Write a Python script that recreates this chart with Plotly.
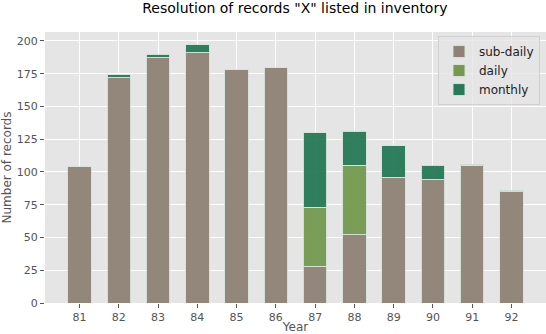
import plotly.graph_objects as go

# data
years = [81, 82, 83, 84, 85, 86, 87, 88, 89, 90, 91, 92]
tick_labels = ["81", "82", "83", "84", "85", "86", "87", "88", "89", "90", "91", "92"]
sub_daily = [104, 172, 187, 191, 178, 180, 28, 52, 96, 94, 105, 85]
daily = [0, 0, 0, 0, 0, 0, 45, 53, 0, 0, 0, 0]
monthly = [0, 2, 3, 6, 0, 0, 57, 26, 24, 11, 1, 1]

series = [
    ("sub-daily", sub_daily, "#8f8176"),
    ("daily", daily, "#74994f"),
    ("monthly", monthly, "#267a58"),
]

fig = go.Figure()
for name, vals, color in series:
    fig.add_trace(go.Bar(
        x=years, y=vals, name=name, width=0.6,
        marker=dict(color=color, opacity=0.95,
                    line=dict(color="rgba(215,228,218,0.95)", width=1)),
    ))

font = "DejaVu Sans"
fig.update_layout(
    width=546, height=334,
    barmode="stack",
    paper_bgcolor="white",
    plot_bgcolor="#e5e5e5",
    margin=dict(l=45, r=0, t=32, b=31),
    font=dict(family=font, size=11, color="#555555"),
    title=dict(text='Resolution of records "X" listed in inventory',
               x=0.54, xanchor="center", y=0.976, yanchor="middle",
               font=dict(family=font, size=14, color="black")),
    legend=dict(x=0.988, y=0.985, xanchor="right", yanchor="top",
                bgcolor="rgba(229,229,229,0.8)", bordercolor="#d0d0d0",
                borderwidth=1, font=dict(family=font, size=12, color="#222222"),
                traceorder="normal", itemwidth=30, tracegroupgap=0),
    showlegend=True,
)
fig.update_xaxes(
    range=[80.12, 92.88], tickmode="array", tickvals=years, ticktext=tick_labels,
    showgrid=True, gridcolor="white", gridwidth=1, zeroline=False,
    ticks="outside", ticklen=4, tickcolor="#555555", automargin=False,
    title=dict(text="Year", font=dict(family=font, size=12, color="#555555"), standoff=3),
)
fig.update_yaxes(
    range=[0, 206.8], tickmode="array", tickvals=list(range(0, 201, 25)),
    showgrid=True, gridcolor="white", gridwidth=1, zeroline=False,
    ticks="outside", ticklen=4, tickcolor="#555555", automargin=False,
    title=dict(text="Number of records", font=dict(family=font, size=12, color="#555555"), standoff=7),
)

# drop the default 8px body margin so the figure sits at the window's corner
fig.write_html("out.html", config={"displayModeBar": False},
               post_script="document.body.style.margin='0';")
